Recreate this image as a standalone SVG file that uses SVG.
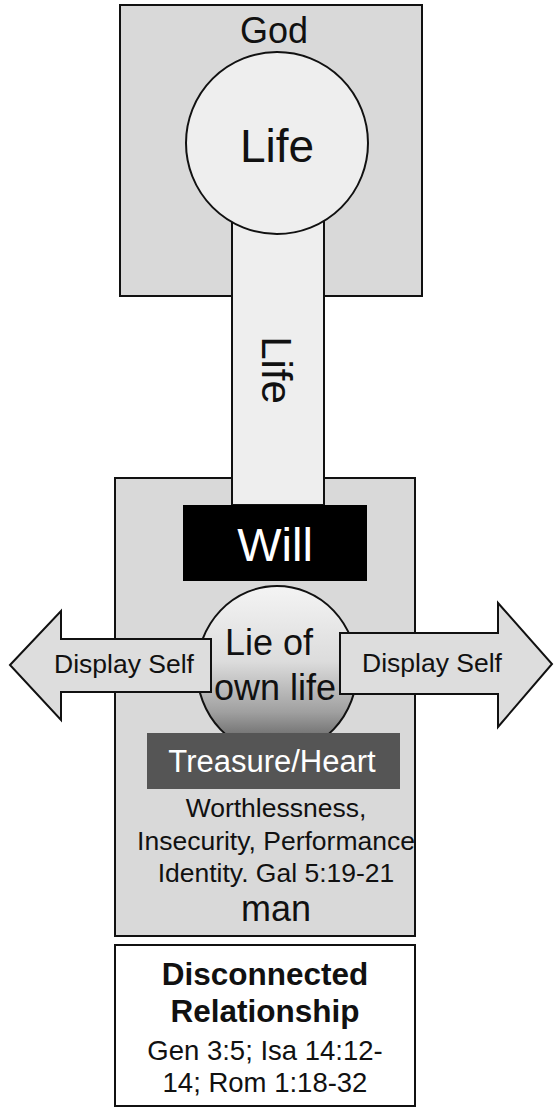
<svg xmlns="http://www.w3.org/2000/svg" width="556" height="1110" viewBox="0 0 556 1110">
<style>
  text { font-family: "Liberation Sans", Arial, sans-serif; fill: #111; text-anchor: middle; }
  .box { fill: #d9d9d9; stroke: #111; stroke-width: 2; }
  .light { fill: #eeeeee; stroke: #111; stroke-width: 2; }
  .arrow { fill: #dddddd; stroke: #111; stroke-width: 2; stroke-linejoin: miter; }
  .white { fill: #ffffff; }
  .bold { font-weight: bold; }
</style>
<defs>
  <linearGradient id="lieGrad" x1="0" y1="0" x2="0" y2="1">
    <stop offset="0" stop-color="#f4f4f4"/>
    <stop offset="0.45" stop-color="#dcdcdc"/>
    <stop offset="0.75" stop-color="#a0a0a0"/>
    <stop offset="1" stop-color="#505050"/>
  </linearGradient>
</defs>
<rect x="0" y="0" width="556" height="1110" fill="#ffffff"/>

<g id="god">
  <rect class="box" x="120" y="5" width="302" height="291"/>
  <text x="274" y="43" font-size="36">God</text>
</g>

<g id="man">
  <rect class="box" x="115" y="478" width="300" height="458"/>
  <text x="276" y="817" font-size="26.5">Worthlessness,</text>
  <text x="276" y="850" font-size="26.5">Insecurity, Performance</text>
  <text x="276" y="882" font-size="26.5">Identity. Gal 5:19-21</text>
  <text x="276" y="921" font-size="36">man</text>
</g>

<g id="connectors">
  <rect class="light" x="232" y="180" width="92" height="325"/>
  <text transform="translate(277,370) rotate(90)" x="0" y="15" font-size="42">Life</text>
</g>

<g id="god-life">
  <circle class="light" cx="277" cy="143" r="91"/>
  <text x="277" y="162" font-size="46">Life</text>
</g>

<g id="will">
  <rect x="183" y="505" width="184" height="76" fill="#000"/>
  <text class="white" x="275" y="561" font-size="47">Will</text>
</g>

<g id="lie">
  <ellipse cx="277" cy="670" rx="80" ry="84" fill="url(#lieGrad)" stroke="#111" stroke-width="2"/>
  <text x="269" y="655" font-size="36">Lie of</text>
  <text x="275" y="700" font-size="36">own life</text>
</g>

<g id="display-left">
  <polygon class="arrow" points="10,665 61,611 61,639 211,639 211,692 61,692 61,720"/>
  <text x="124" y="673" font-size="26.5">Display Self</text>
</g>

<g id="display-right">
  <polygon class="arrow" points="340,633 498,633 498,603 552,664 498,727 498,694 340,694"/>
  <text x="432" y="672" font-size="26.5">Display Self</text>
</g>

<g id="treasure">
  <rect x="147" y="733" width="253" height="56" fill="#555555"/>
  <text class="white" x="272" y="772" font-size="31">Treasure/Heart</text>
</g>

<g id="disconnected">
  <rect x="115" y="945" width="300" height="161" fill="#ffffff" stroke="#111" stroke-width="2"/>
  <text class="bold" x="265" y="985" font-size="31.5">Disconnected</text>
  <text class="bold" x="265" y="1022" font-size="31.5">Relationship</text>
  <text x="265" y="1060" font-size="27.5">Gen 3:5; Isa 14:12-</text>
  <text x="265" y="1092" font-size="27.5">14; Rom 1:18-32</text>
</g>
</svg>
